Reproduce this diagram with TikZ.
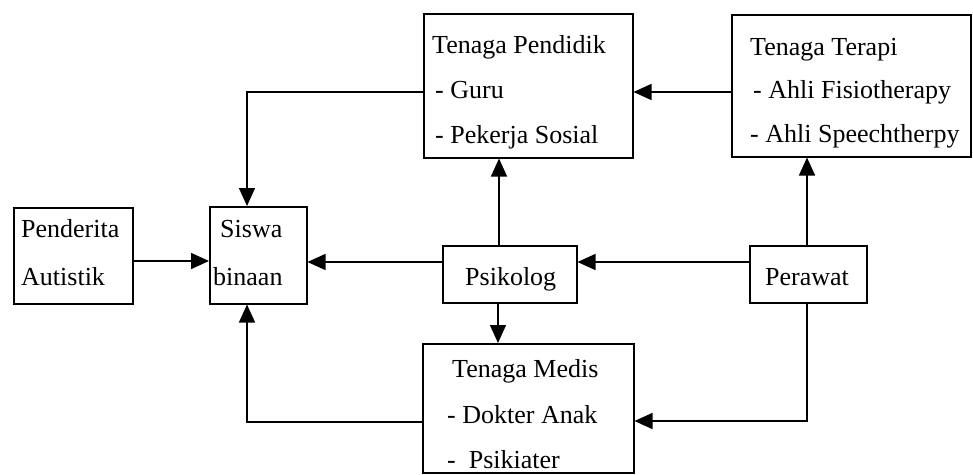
\documentclass[tikz,border=0pt]{standalone}
\usepackage{fontspec}
\setmainfont{Liberation Serif}
\usetikzlibrary{arrows.meta}
\begin{document}
\begin{tikzpicture}[x=1pt,y=-1pt,
  boxnode/.style={draw, line width=1.5pt, inner sep=0pt, anchor=north west},
  lbl/.style={anchor=base west, inner sep=0pt, font=\fontsize{26}{30}\selectfont},
  arr/.style={line width=1.5pt, -{Triangle[length=18pt,width=16pt]}}]
\useasboundingbox (0,0) rectangle (973,474);
% boxes
\node[boxnode, minimum width=209pt, minimum height=144pt] (pend) at (423,13) {};
\node[boxnode, minimum width=239pt, minimum height=142pt] (ter) at (731,14) {};
\node[boxnode, minimum width=119pt, minimum height=96pt] (pen) at (13,207) {};
\node[boxnode, minimum width=97pt, minimum height=97pt] (sis) at (209,206) {};
\node[boxnode, minimum width=134pt, minimum height=57pt] (psi) at (442,245) {};
\node[boxnode, minimum width=117pt, minimum height=57pt] (per) at (749,245) {};
\node[boxnode, minimum width=211pt, minimum height=129pt] (med) at (422,343) {};
% texts
\node[lbl] (t1) at (432,53) {Tenaga Pendidik};
\node[lbl] (t2) at (435,98) {- Guru};
\node[lbl] (t3) at (435,143) {- Pekerja Sosial};
\node[lbl] (t4) at (750,55) {Tenaga Terapi};
\node[lbl] (t5) at (753,98) {- Ahli Fisiotherapy};
\node[lbl] (t6) at (750,142) {- Ahli Speechtherpy};
\node[lbl] (t7) at (21,237) {Penderita};
\node[lbl] (t8) at (21,285) {Autistik};
\node[lbl] (t9) at (220,237) {Siswa};
\node[lbl] (t10) at (213,285) {binaan};
\node[lbl] (t11) at (465,285) {Psikolog};
\node[lbl] (t12) at (765,285) {Perawat};
\node[lbl] (t13) at (452,377) {Tenaga Medis};
\node[lbl] (t14) at (447,423) {- Dokter Anak};
\node[lbl] (t15) at (447,468) {-\ \ Psikiater};
% connectors
\draw[arr] (pend.west |- 0,92) -| (sis.north -| 247,0);
\draw[arr] (pen.east |- 0,261) -- (sis.west |- 0,261);
\draw[arr] (psi.west |- 0,262) -- (sis.east |- 0,262);
\draw[arr] (per.west |- 0,262) -- (psi.east |- 0,262);
\draw[arr] (ter.west |- 0,92) -- (pend.east |- 0,92);
\draw[arr] (psi.north -| 499,0) -- (pend.south -| 499,0);
\draw[arr] (per.north -| 807,0) -- (ter.south -| 807,0);
\draw[arr] (psi.south -| 498,0) -- (med.north -| 498,0);
\draw[arr] (med.west |- 0,422) -| (sis.south -| 247,0);
\draw[arr] (per.south -| 807,0) |- (med.east |- 0,421);
\end{tikzpicture}
\end{document}
